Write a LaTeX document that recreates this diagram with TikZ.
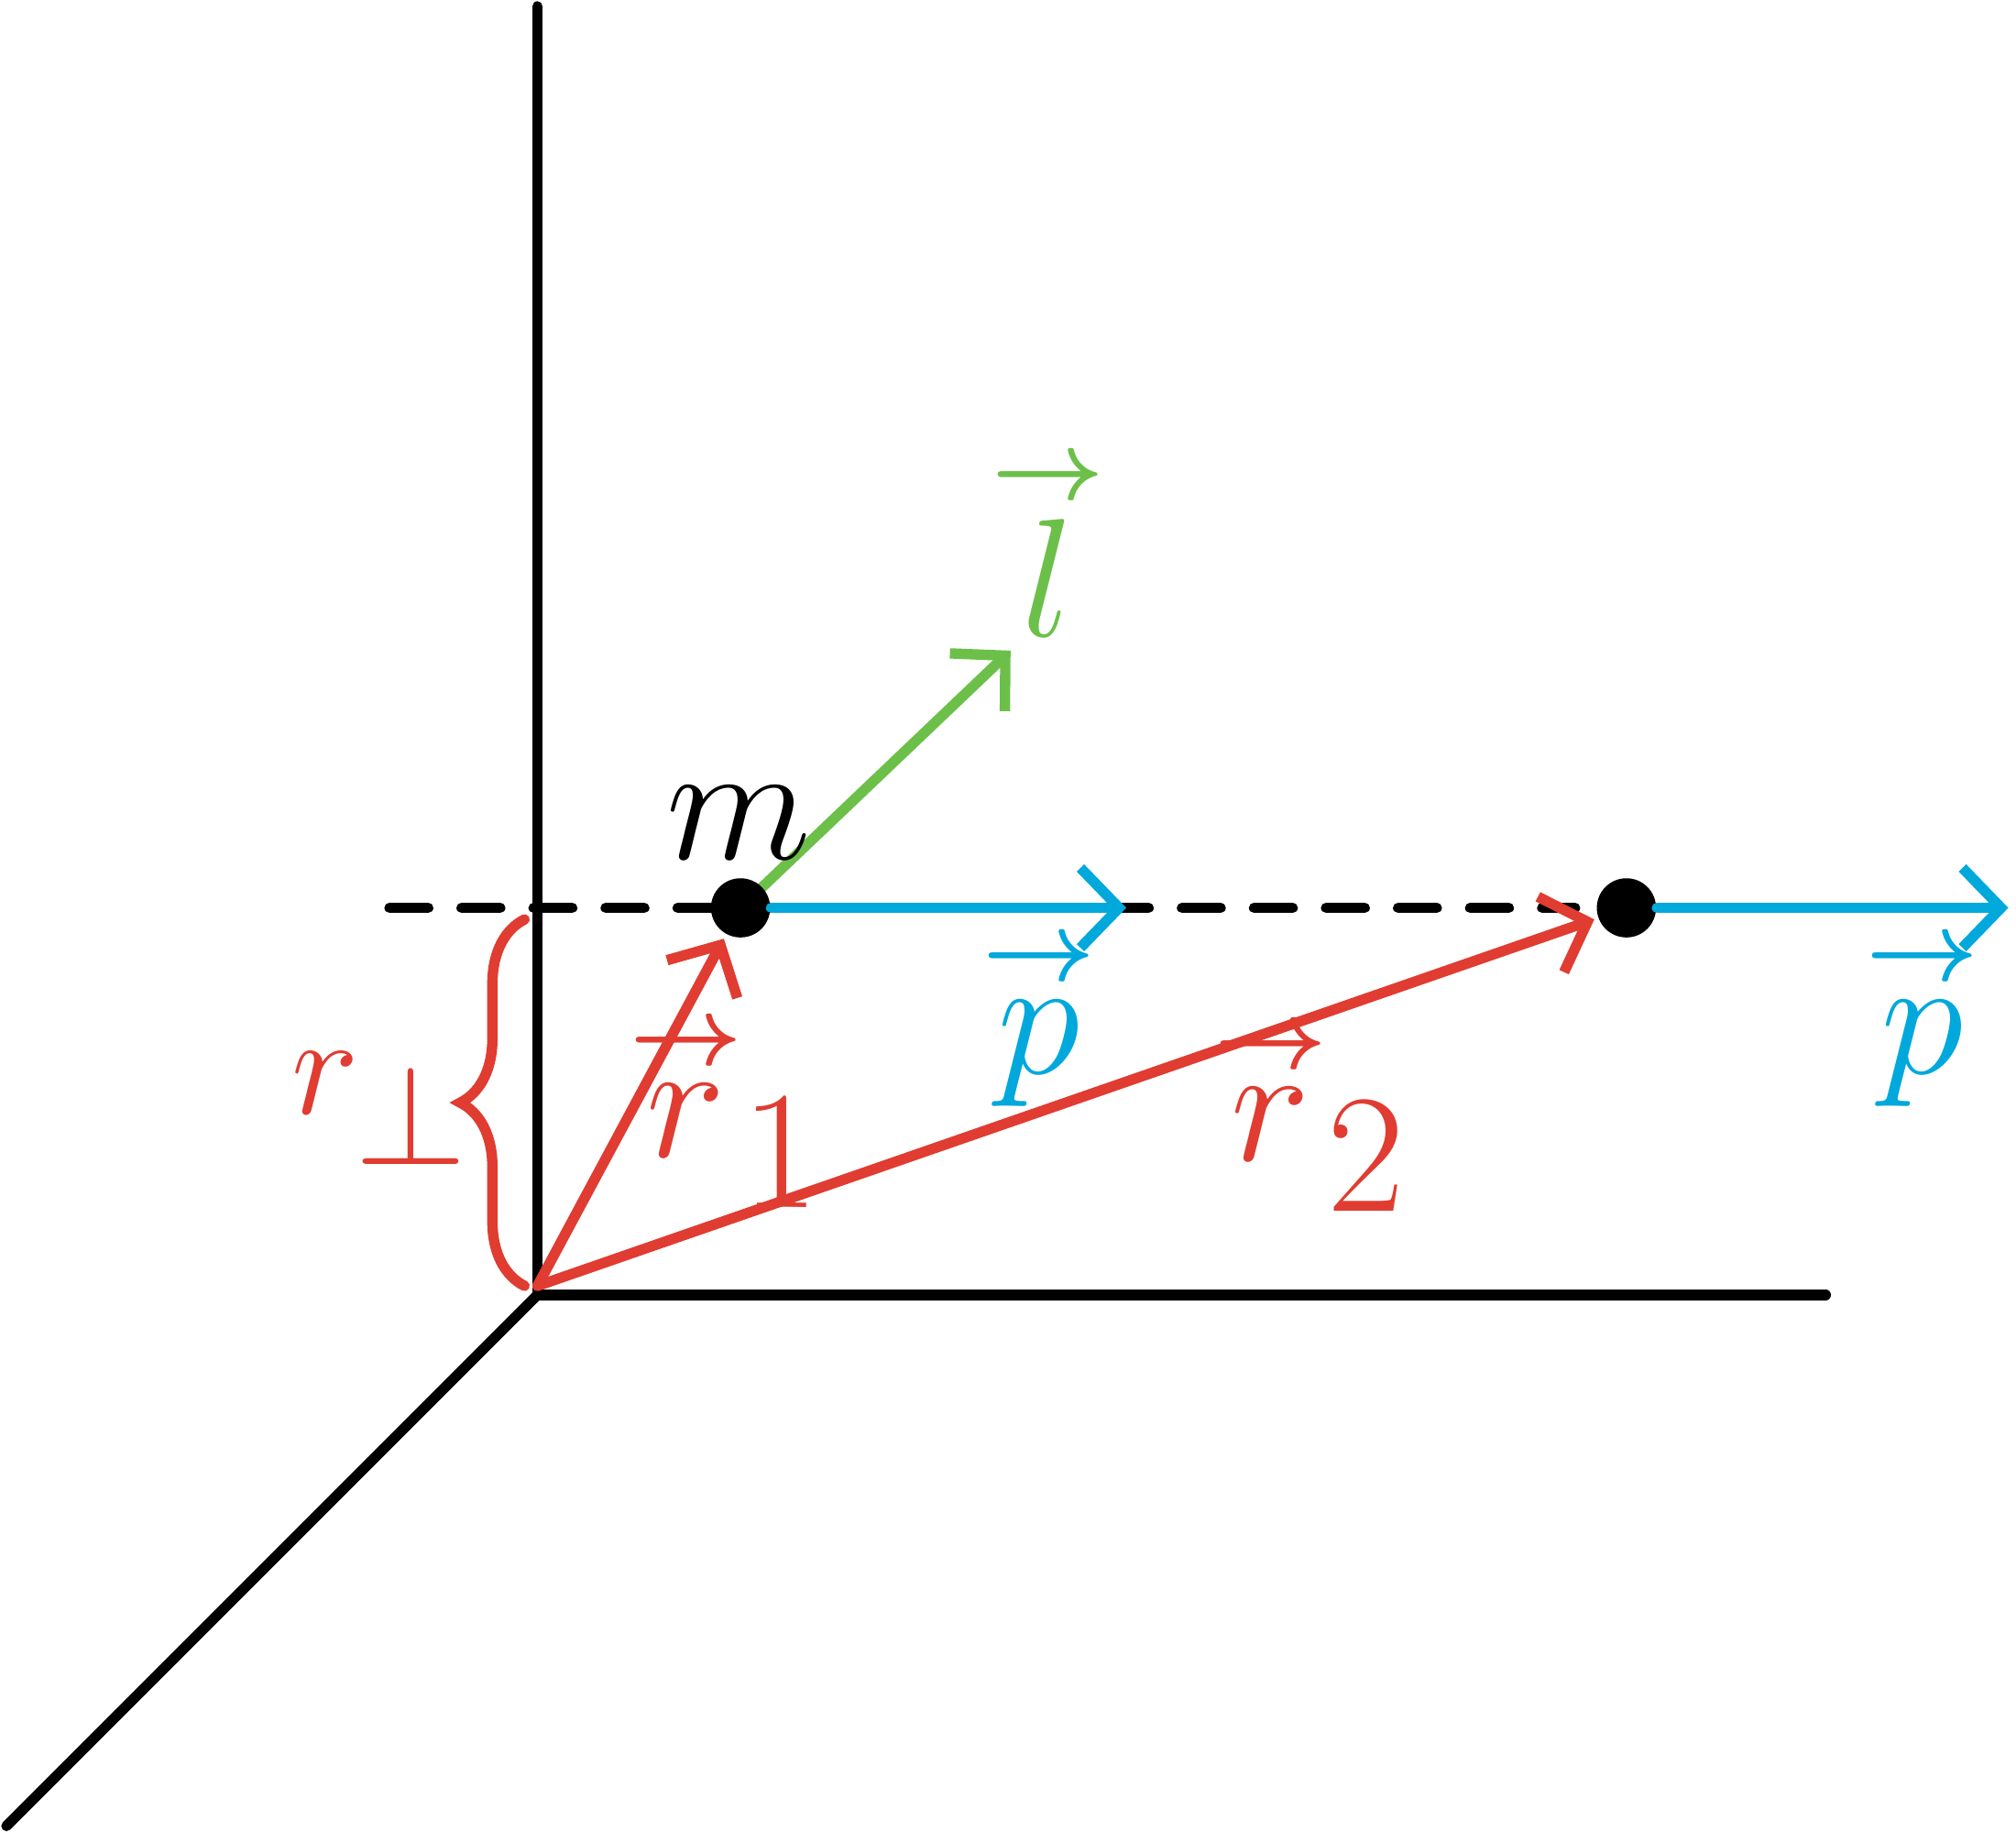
\documentclass[tikz,border=0pt]{standalone}
\usepackage{amsmath}
\usetikzlibrary{arrows.meta,decorations.pathreplacing}
\definecolor{cred}{HTML}{E03C31}
\definecolor{cblue}{HTML}{00A8DC}
\definecolor{cgreen}{HTML}{6CC04A}
\newcommand{\myvec}[1]{\overset{\raisebox{-2pt}{\fontsize{15}{15}\selectfont$\boldsymbol{\rightarrow}$}}{#1}}
\begin{document}
\begin{tikzpicture}[x=0.01cm,y=-0.01cm,line cap=round,
  axis/.style={line width=2.3pt,black},
  vec/.style={line width=2.3pt,-{Straight Barb[length=0.3cm,width=0.62cm,line width=2.3pt]}},
  lab/.style={font=\fontsize{40}{48}\selectfont,scale=1.5}]
\useasboundingbox (0,0) rectangle (1568,1425);
\coordinate (O) at (418,1007);
\coordinate (top) at (418,5);
\coordinate (right) at (1420,1007);
\coordinate (diag) at (5,1420);
\draw[axis] (top) -- (O) -- (right);
\draw[axis] (O) -- (diag);
\coordinate (dl) at (303,706);
\coordinate (dr) at (1225,706);
\draw[axis,dash pattern=on 0.3cm off 0.26cm] (dl) -- (dr);
\coordinate (c1) at (576,706);
\coordinate (l) at (786,506);
\draw[vec,cgreen] (c1) -- (l);
\node[circle,fill=black,minimum size=0.46cm,inner sep=0] (m1) at (c1) {};
\node[circle,fill=black,minimum size=0.46cm,inner sep=0] (m2) at (1265,706) {};
\coordinate (p1) at (876,706);
\coordinate (p2) at (1562,706);
\draw[vec,cblue] (m1) -- (p1);
\draw[vec,cblue] (m2) -- (p2);
\coordinate (o2) at (418,1000);
\coordinate (r1) at (563,730);
\coordinate (r2) at (1240,715);
\draw[vec,cred] (o2) -- (r1);
\draw[vec,cred] (o2) -- (r2);
\coordinate (b1) at (408,1000);
\coordinate (b2) at (408,715);
\draw[cred,line width=2.3pt,decorate,decoration={brace,amplitude=0.5cm}] (b1) -- (b2);
\node[lab] (mlab) at (575,640) {$m$};
\node[lab,cgreen] (llab) at (815,420) {$\myvec{l}$};
\node[lab,cblue] (pl1) at (808,790) {$\myvec{p}$};
\node[lab,cblue] (pl2) at (1495,790) {$\myvec{p}$};
\node[lab,cred] (r1l) at (565,862) {$\myvec{r}_1$};
\node[lab,cred] (r2l) at (1020,865) {$\myvec{r}_2$};
\node[lab,cred,scale=0.85] (rp) at (296,862) {$r_\perp$};
\end{tikzpicture}
\end{document}
